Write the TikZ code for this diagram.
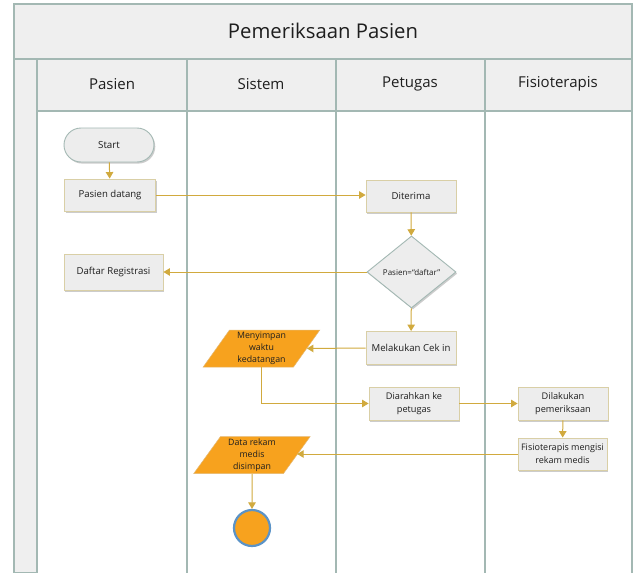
\documentclass[tikz,border=0pt]{standalone}
\usepackage{fontspec}
\setmainfont{Open Sans}
\usetikzlibrary{shapes.geometric,arrows.meta,shadows}

\definecolor{bandgray}{HTML}{EFEFEF}
\definecolor{frameline}{HTML}{A3B8B3}
\definecolor{flowgold}{HTML}{D1AA3E}
\definecolor{boxedge}{HTML}{D9CFA6}
\definecolor{boxfill}{HTML}{EDEDED}
\definecolor{inkgray}{HTML}{1E1E1E}
\definecolor{dataorange}{HTML}{F7A21E}
\definecolor{endblue}{HTML}{5B93C7}

\tikzset{
  frame/.style={draw=frameline, line width=1.1pt},
  band/.style={frame, fill=bandgray},
  lanetitle/.style={font=\fontsize{15}{18}\selectfont, text=inkgray},
  softshadow/.style={drop shadow={shadow xshift=1.3pt, shadow yshift=-1.6pt, fill=black, opacity=0.2}},
  procbox/.style={draw=boxedge, fill=boxfill, line width=0.9pt, softshadow,
    minimum width=90pt, minimum height=33pt, inner sep=2pt, align=center,
    text=inkgray, font=\fontsize{9.6}{13}\selectfont},
  startbox/.style={draw=frameline, fill=boxfill, line width=0.9pt, softshadow,
    rounded corners=17pt, minimum width=90pt, minimum height=34pt,
    text=inkgray, font=\fontsize{9.8}{11}\selectfont},
  decision/.style={diamond, draw=frameline, fill=boxfill, line width=0.9pt, softshadow,
    minimum width=89pt, minimum height=72pt, inner sep=0pt,
    text=inkgray, font=\fontsize{8}{9}\selectfont},
  datashape/.style={trapezium, trapezium left angle=58, trapezium right angle=122,
    trapezium stretches=true, draw=dataorange!85!black!60, fill=dataorange, line width=0.5pt,
    minimum width=117pt, minimum height=37pt, inner xsep=0pt, inner ysep=0pt, align=center,
    text=inkgray, font=\fontsize{8.8}{11.8}\selectfont},
  endmark/.style={circle, draw=endblue, fill=dataorange, line width=2.2pt,
    minimum size=36pt, inner sep=0pt},
  flow/.style={draw=flowgold, line width=1pt, -{Triangle[width=7.5pt,length=6.5pt]}},
}

\begin{document}
\begin{tikzpicture}[x=1pt, y=-1pt]
  \useasboundingbox (0,0) rectangle (633,573);
  \fill[white] (0,0) rectangle (633,573);

  % pool title band and left column
  \draw[band] (14,4) rectangle (632,59);
  \draw[band] (14,59) rectangle (37,573);
  \node[font=\fontsize{20.3}{24}\selectfont, text=inkgray] (pooltitle) at (323,31) {Pemeriksaan Pasien};

  % lane headers
  \draw[band] (37,59) rectangle (187,111);
  \draw[band] (187,59) rectangle (336,111);
  \draw[band] (336,59) rectangle (485,111);
  \draw[band] (485,59) rectangle (632,111);
  \node[lanetitle] (hpasien) at (112,84) {Pasien};
  \node[lanetitle] (hsistem) at (261,84) {Sistem};
  \node[lanetitle] (hpetugas) at (410,84) {Petugas};
  \node[lanetitle] (hfisio) at (558,84) {Fisioterapis};

  % lane separators
  \foreach \lx in {187,336,485,632}
    \draw[frame] (\lx,111) -- (\lx,573);

  % flow nodes
  \node[startbox] (start) at (109,145) {Start};
  \node[procbox, minimum width=91pt, minimum height=32pt] (datang) at (110,195) {Pasien datang};
  \node[procbox, minimum width=99pt, minimum height=36pt] (daftar) at (113.5,272) {Daftar Registrasi};
  \node[procbox, minimum height=32pt] (diterima) at (411,196) {Diterima};
  \node[decision] (cek) at (411.5,272) {Pasien=“daftar”};
  \node[procbox] (cekin) at (411,348) {Melakukan Cek in};
  \node[datashape] (simpanwaktu) at (261.5,348.5) {Menyimpan\\waktu\\kedatangan};
  \node[procbox, font=\fontsize{9.2}{13}\selectfont] (diarahkan) at (414,403.5) {Diarahkan ke\\petugas};
  \node[procbox, font=\fontsize{9.2}{13}\selectfont] (periksa) at (563,403.5) {Dilakukan\\pemeriksaan};
  \node[procbox, minimum width=89pt, minimum height=32pt, font=\fontsize{9}{13}\selectfont] (isirekam) at (562.5,454) {Fisioterapis mengisi\\rekam medis};
  \node[datashape] (simpanrekam) at (252,455) {Data rekam\\medis\\disimpan};
  \node[endmark] (selesai) at (252,528) {};

  % connectors
  \draw[flow] (start) -- (datang);
  \draw[flow] (datang.east) -- (datang.east -| diterima.west);
  \draw[flow] (diterima) -- (cek);
  \draw[flow] (cek.west) -- (daftar.east);
  \draw[flow] (cek) -- (cekin);
  \draw[flow] (cekin.west) -- (simpanwaktu.east);
  \draw[flow] (simpanwaktu.south) |- (diarahkan.west);
  \draw[flow] (diarahkan.east) -- (periksa.west);
  \draw[flow] (periksa) -- (isirekam);
  \draw[flow] (isirekam.west) -- (isirekam.west -| simpanrekam.east);
  \draw[flow] (simpanrekam.south) -- (selesai.north);
\end{tikzpicture}
\end{document}
